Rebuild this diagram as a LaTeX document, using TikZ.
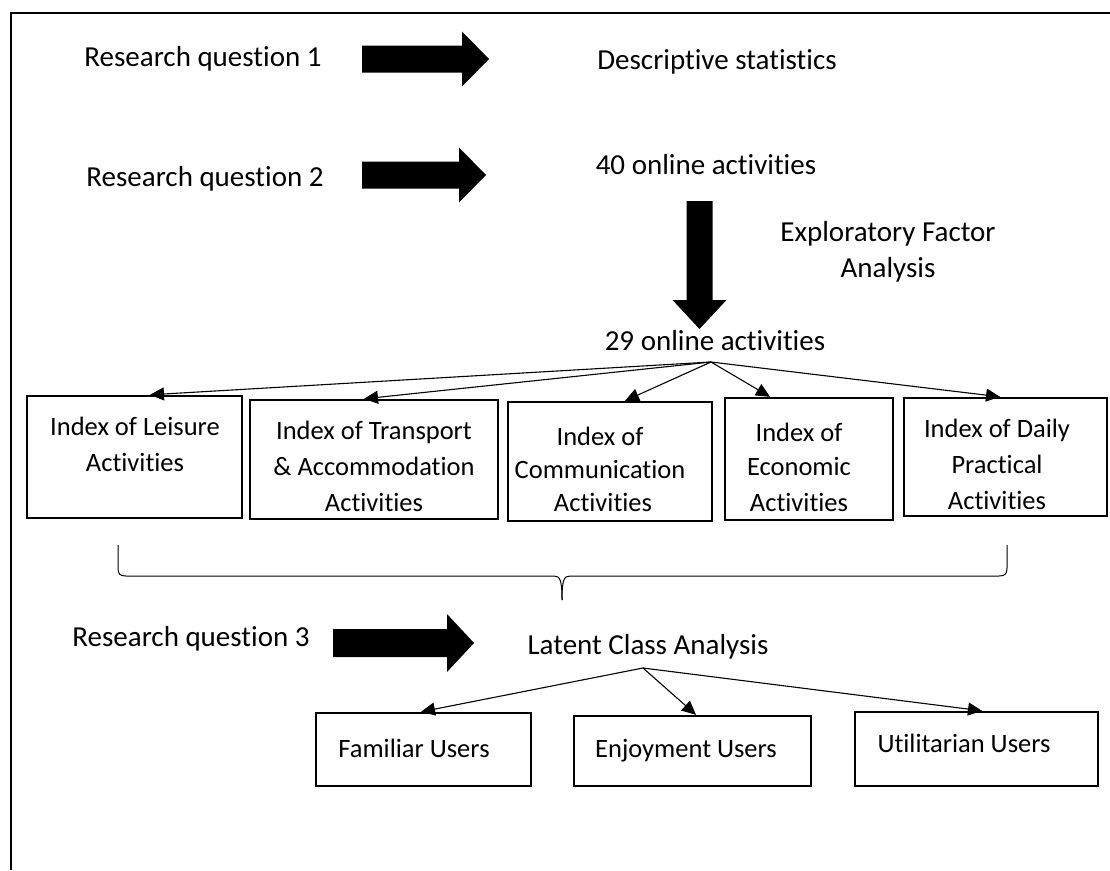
\documentclass[tikz,border=0pt]{standalone}
\usepackage{fontspec}
\setmainfont{Carlito}[Ligatures=NoCommon]
\usetikzlibrary{arrows.meta}
\begin{document}
\begin{tikzpicture}[x=1pt,y=-1pt,
  big/.style={font=\fontsize{29}{35}\selectfont, inner sep=0pt, anchor=base},
  small/.style={font=\fontsize{26.5}{36}\selectfont, inner sep=0pt, anchor=base},
  box/.style={draw, line width=2.4pt, inner sep=0pt},
  fan/.style={line width=1.1pt, -{Triangle[length=14pt,width=13pt]}},
  brace/.style={line width=1pt},
]
\useasboundingbox (0,0) rectangle (1110,870);
\draw[line width=2.5pt] (11,870) -- (11,13) -- (1110,13);

% texts
\node[big] (rq1) at (203,66) {Research question 1};
\node[big] (ds) at (717,69) {Descriptive statistics};
\node[big] (rq2) at (205,186) {Research question 2};
\node[big] (a40) at (706,174) {40 online activities};
\node[big] (efa1) at (888,241) {Exploratory Factor};
\node[big] (efa2) at (888,277) {Analysis};
\node[big] (a29) at (715,350) {29 online activities};
\node[big] (rq3) at (191,646) {Research question 3};
\node[big] (lca) at (648,654) {Latent Class Analysis};

% block arrows
\fill (362,59) ++(0,-13.5) -- ++(100,0) -- ++(0,-14) -- (489,59) -- ++(-27,27.5) -- ++(0,-14) -- ++(-100,0) -- cycle;
\fill (362,175) ++(0,-13.5) -- ++(97,0) -- ++(0,-14) -- (486,175) -- ++(-27,27.5) -- ++(0,-14) -- ++(-97,0) -- cycle;
\fill (333,643) ++(0,-14) -- ++(114,0) -- ++(0,-15) -- (474,643) -- ++(-27,29) -- ++(0,-15) -- ++(-114,0) -- cycle;
\fill (699.5,201) ++(-13,0) -- ++(0,99) -- ++(-14,0) -- (699.5,329) -- ++(27,-29) -- ++(-14,0) -- ++(0,-99) -- cycle;

% row of index boxes
\node[box, minimum width=215pt, minimum height=122pt] (b1) at (134.5,457) {};
\node[box, minimum width=248pt, minimum height=119pt] (b2) at (374,459.5) {};
\node[box, minimum width=204pt, minimum height=119pt] (b3) at (610,461.5) {};
\node[box, minimum width=168pt, minimum height=122pt] (b4) at (809,459) {};
\node[box, minimum width=203pt, minimum height=118pt] (b5) at (1005.5,457) {};

\node[small] (b1a) at (135,435) {Index of Leisure};
\node[small] (b1b) at (135,471) {Activities};
\node[small] (b2a) at (374,439) {Index of Transport};
\node[small] (b2b) at (374,475) {\& Accommodation};
\node[small] (b2c) at (374,511) {Activities};
\node[small] (b3a) at (600,445) {Index of};
\node[small] (b3b) at (600,478) {Communication};
\node[small] (b3c) at (603,511) {Activities};
\node[small] (b4a) at (799,441) {Index of};
\node[small] (b4b) at (799,475) {Economic};
\node[small] (b4c) at (799,511) {Activities};
\node[small] (b5a) at (997,437) {Index of Daily};
\node[small] (b5b) at (997,473) {Practical};
\node[small] (b5c) at (997,509) {Activities};

\coordinate (f1) at (711,362);
\draw[fan] (f1) -- (150,0 |- b1.north);
\draw[fan] (f1) -- (364,0 |- b2.north);
\draw[fan] (f1) -- (625,0 |- b3.north);
\draw[fan] (f1) -- (770,0 |- b4.north);
\draw[fan] (f1) -- (1000,0 |- b5.north);

% brace
\draw[brace] (118,545) -- (118,568) .. controls (118,574) and (120,576) .. (126,576) -- (554,576) .. controls (560,576) and (562,580) .. (562,600);
\draw[brace] (562,600) .. controls (562,580) and (564,576) .. (570,576) -- (999,576) .. controls (1005,576) and (1007,574) .. (1007,568) -- (1007,545);

% user boxes
\node[box, minimum width=215pt, minimum height=73pt] (u1) at (423.5,749.5) {};
\node[box, minimum width=237pt, minimum height=70pt] (u2) at (692.5,751) {};
\node[box, minimum width=243pt, minimum height=74pt] (u3) at (976.5,749) {};
\node[small] (u1t) at (414,757) {Familiar Users};
\node[small] (u2t) at (686,757) {Enjoyment Users};
\node[small] (u3t) at (964,752) {Utilitarian Users};

\coordinate (f2) at (643,668);
\draw[fan] (f2) -- (421,0 |- u1.north);
\draw[fan] (f2) -- (696,0 |- u2.north);
\draw[fan] (f2) -- (982,0 |- u3.north);
\end{tikzpicture}
\end{document}
